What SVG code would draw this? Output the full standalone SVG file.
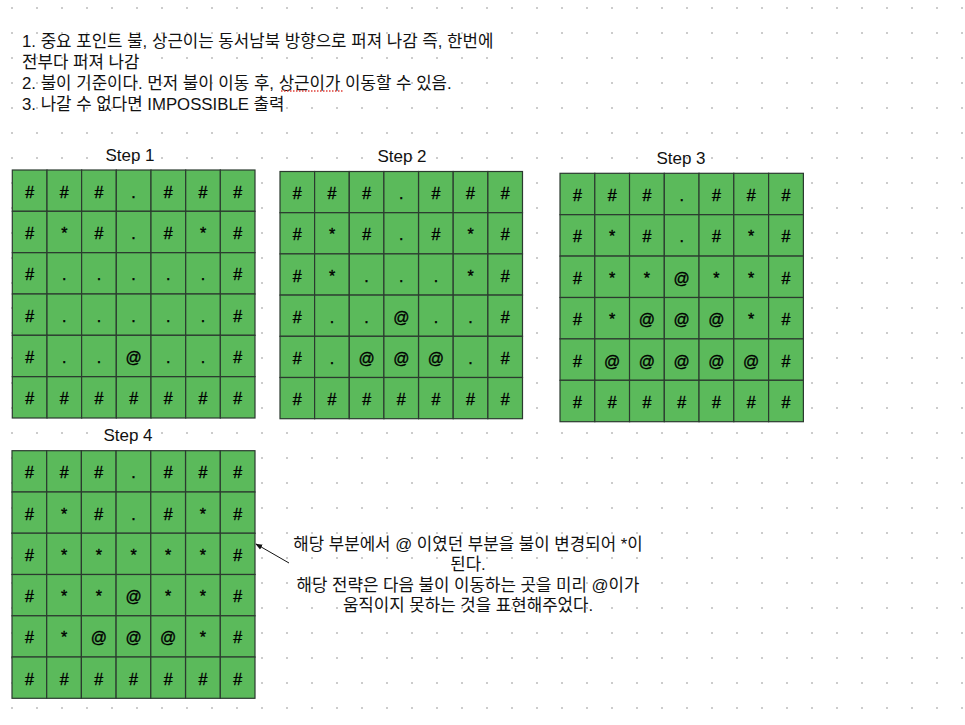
<svg xmlns="http://www.w3.org/2000/svg" width="965" height="725" viewBox="0 0 965 725">
<defs>
<pattern id="dots" x="0" y="0" width="25" height="25" patternUnits="userSpaceOnUse">
<rect x="11" y="7" width="2" height="2" fill="#cccccc"/>
</pattern>
<marker id="arr" viewBox="0 0 10 10" refX="9" refY="5" markerWidth="7" markerHeight="7" orient="auto-start-reverse">
<path d="M0,1 L10,5 L0,9 z" fill="#111"/>
</marker>
<style>
.t{font-family:"Liberation Sans","Noto Sans CJK KR",sans-serif;font-size:16.8px;fill:#111}
.c text.lbl{font-family:"Liberation Sans","Noto Sans CJK KR",sans-serif;font-size:17px;fill:#111;text-anchor:middle;stroke:none}
.c rect{fill:#5bba5b;stroke:#2b3a2f;stroke-width:1.2}
.c text{font-family:"Liberation Sans",sans-serif;font-size:16px;fill:#000;stroke:#000;stroke-width:0.35;text-anchor:middle}
</style>
</defs>
<rect width="965" height="725" fill="#ffffff"/>
<rect width="965" height="725" fill="url(#dots)"/>

<g id="notes">
<text class="t" x="22" y="46.5">1. 중요 포인트 불, 상근이는 동서남북 방향으로 퍼져 나감 즉, 한번에</text>
<text class="t" x="22" y="67.5">전부다 퍼져 나감</text>
<text class="t" x="22" y="88.5">2. 불이 기준이다. 먼저 불이 이동 후, 상근이가 이동할 수 있음.</text>
<line x1="281" y1="91" x2="343" y2="91" stroke="#e0403a" stroke-width="1.3" stroke-dasharray="1.5 1.5"/>
<text class="t" x="22" y="109.5">3. 나갈 수 없다면 IMPOSSIBLE 출력</text>
</g>

<g id="step1" class="c">
<text class="lbl" x="130" y="161">Step 1</text>
<rect x="12.3" y="170" width="34.7" height="41.3"/><rect x="47" y="170" width="34.7" height="41.3"/><rect x="81.6" y="170" width="34.7" height="41.3"/><rect x="116.3" y="170" width="34.7" height="41.3"/><rect x="151" y="170" width="34.7" height="41.3"/><rect x="185.7" y="170" width="34.7" height="41.3"/><rect x="220.3" y="170" width="34.7" height="41.3"/>
<rect x="12.3" y="211.3" width="34.7" height="41.3"/><rect x="47" y="211.3" width="34.7" height="41.3"/><rect x="81.6" y="211.3" width="34.7" height="41.3"/><rect x="116.3" y="211.3" width="34.7" height="41.3"/><rect x="151" y="211.3" width="34.7" height="41.3"/><rect x="185.7" y="211.3" width="34.7" height="41.3"/><rect x="220.3" y="211.3" width="34.7" height="41.3"/>
<rect x="12.3" y="252.7" width="34.7" height="41.3"/><rect x="47" y="252.7" width="34.7" height="41.3"/><rect x="81.6" y="252.7" width="34.7" height="41.3"/><rect x="116.3" y="252.7" width="34.7" height="41.3"/><rect x="151" y="252.7" width="34.7" height="41.3"/><rect x="185.7" y="252.7" width="34.7" height="41.3"/><rect x="220.3" y="252.7" width="34.7" height="41.3"/>
<rect x="12.3" y="294" width="34.7" height="41.3"/><rect x="47" y="294" width="34.7" height="41.3"/><rect x="81.6" y="294" width="34.7" height="41.3"/><rect x="116.3" y="294" width="34.7" height="41.3"/><rect x="151" y="294" width="34.7" height="41.3"/><rect x="185.7" y="294" width="34.7" height="41.3"/><rect x="220.3" y="294" width="34.7" height="41.3"/>
<rect x="12.3" y="335.3" width="34.7" height="41.3"/><rect x="47" y="335.3" width="34.7" height="41.3"/><rect x="81.6" y="335.3" width="34.7" height="41.3"/><rect x="116.3" y="335.3" width="34.7" height="41.3"/><rect x="151" y="335.3" width="34.7" height="41.3"/><rect x="185.7" y="335.3" width="34.7" height="41.3"/><rect x="220.3" y="335.3" width="34.7" height="41.3"/>
<rect x="12.3" y="376.7" width="34.7" height="41.3"/><rect x="47" y="376.7" width="34.7" height="41.3"/><rect x="81.6" y="376.7" width="34.7" height="41.3"/><rect x="116.3" y="376.7" width="34.7" height="41.3"/><rect x="151" y="376.7" width="34.7" height="41.3"/><rect x="185.7" y="376.7" width="34.7" height="41.3"/><rect x="220.3" y="376.7" width="34.7" height="41.3"/>
<text x="29.6" y="197.7">#</text><text x="64.3" y="197.7">#</text><text x="99" y="197.7">#</text><text x="133.6" y="197.7">.</text><text x="168.3" y="197.7">#</text><text x="203" y="197.7">#</text><text x="237.7" y="197.7">#</text>
<text x="29.6" y="239">#</text><text x="64.3" y="239">*</text><text x="99" y="239">#</text><text x="133.6" y="239">.</text><text x="168.3" y="239">#</text><text x="203" y="239">*</text><text x="237.7" y="239">#</text>
<text x="29.6" y="280.3">#</text><text x="64.3" y="280.3">.</text><text x="99" y="280.3">.</text><text x="133.6" y="280.3">.</text><text x="168.3" y="280.3">.</text><text x="203" y="280.3">.</text><text x="237.7" y="280.3">#</text>
<text x="29.6" y="321.7">#</text><text x="64.3" y="321.7">.</text><text x="99" y="321.7">.</text><text x="133.6" y="321.7">.</text><text x="168.3" y="321.7">.</text><text x="203" y="321.7">.</text><text x="237.7" y="321.7">#</text>
<text x="29.6" y="363">#</text><text x="64.3" y="363">.</text><text x="99" y="363">.</text><text x="133.6" y="363">@</text><text x="168.3" y="363">.</text><text x="203" y="363">.</text><text x="237.7" y="363">#</text>
<text x="29.6" y="404.3">#</text><text x="64.3" y="404.3">#</text><text x="99" y="404.3">#</text><text x="133.6" y="404.3">#</text><text x="168.3" y="404.3">#</text><text x="203" y="404.3">#</text><text x="237.7" y="404.3">#</text>
</g>

<g id="step2" class="c">
<text class="lbl" x="402" y="162">Step 2</text>
<rect x="280" y="171.5" width="34.6" height="41.2"/><rect x="314.6" y="171.5" width="34.6" height="41.2"/><rect x="349.3" y="171.5" width="34.6" height="41.2"/><rect x="383.9" y="171.5" width="34.6" height="41.2"/><rect x="418.6" y="171.5" width="34.6" height="41.2"/><rect x="453.2" y="171.5" width="34.6" height="41.2"/><rect x="487.9" y="171.5" width="34.6" height="41.2"/>
<rect x="280" y="212.7" width="34.6" height="41.2"/><rect x="314.6" y="212.7" width="34.6" height="41.2"/><rect x="349.3" y="212.7" width="34.6" height="41.2"/><rect x="383.9" y="212.7" width="34.6" height="41.2"/><rect x="418.6" y="212.7" width="34.6" height="41.2"/><rect x="453.2" y="212.7" width="34.6" height="41.2"/><rect x="487.9" y="212.7" width="34.6" height="41.2"/>
<rect x="280" y="253.9" width="34.6" height="41.2"/><rect x="314.6" y="253.9" width="34.6" height="41.2"/><rect x="349.3" y="253.9" width="34.6" height="41.2"/><rect x="383.9" y="253.9" width="34.6" height="41.2"/><rect x="418.6" y="253.9" width="34.6" height="41.2"/><rect x="453.2" y="253.9" width="34.6" height="41.2"/><rect x="487.9" y="253.9" width="34.6" height="41.2"/>
<rect x="280" y="295.1" width="34.6" height="41.2"/><rect x="314.6" y="295.1" width="34.6" height="41.2"/><rect x="349.3" y="295.1" width="34.6" height="41.2"/><rect x="383.9" y="295.1" width="34.6" height="41.2"/><rect x="418.6" y="295.1" width="34.6" height="41.2"/><rect x="453.2" y="295.1" width="34.6" height="41.2"/><rect x="487.9" y="295.1" width="34.6" height="41.2"/>
<rect x="280" y="336.3" width="34.6" height="41.2"/><rect x="314.6" y="336.3" width="34.6" height="41.2"/><rect x="349.3" y="336.3" width="34.6" height="41.2"/><rect x="383.9" y="336.3" width="34.6" height="41.2"/><rect x="418.6" y="336.3" width="34.6" height="41.2"/><rect x="453.2" y="336.3" width="34.6" height="41.2"/><rect x="487.9" y="336.3" width="34.6" height="41.2"/>
<rect x="280" y="377.5" width="34.6" height="41.2"/><rect x="314.6" y="377.5" width="34.6" height="41.2"/><rect x="349.3" y="377.5" width="34.6" height="41.2"/><rect x="383.9" y="377.5" width="34.6" height="41.2"/><rect x="418.6" y="377.5" width="34.6" height="41.2"/><rect x="453.2" y="377.5" width="34.6" height="41.2"/><rect x="487.9" y="377.5" width="34.6" height="41.2"/>
<text x="297.3" y="199.1">#</text><text x="332" y="199.1">#</text><text x="366.6" y="199.1">#</text><text x="401.3" y="199.1">.</text><text x="435.9" y="199.1">#</text><text x="470.5" y="199.1">#</text><text x="505.2" y="199.1">#</text>
<text x="297.3" y="240.3">#</text><text x="332" y="240.3">*</text><text x="366.6" y="240.3">#</text><text x="401.3" y="240.3">.</text><text x="435.9" y="240.3">#</text><text x="470.5" y="240.3">*</text><text x="505.2" y="240.3">#</text>
<text x="297.3" y="281.5">#</text><text x="332" y="281.5">*</text><text x="366.6" y="281.5">.</text><text x="401.3" y="281.5">.</text><text x="435.9" y="281.5">.</text><text x="470.5" y="281.5">*</text><text x="505.2" y="281.5">#</text>
<text x="297.3" y="322.7">#</text><text x="332" y="322.7">.</text><text x="366.6" y="322.7">.</text><text x="401.3" y="322.7">@</text><text x="435.9" y="322.7">.</text><text x="470.5" y="322.7">.</text><text x="505.2" y="322.7">#</text>
<text x="297.3" y="363.9">#</text><text x="332" y="363.9">.</text><text x="366.6" y="363.9">@</text><text x="401.3" y="363.9">@</text><text x="435.9" y="363.9">@</text><text x="470.5" y="363.9">.</text><text x="505.2" y="363.9">#</text>
<text x="297.3" y="405.1">#</text><text x="332" y="405.1">#</text><text x="366.6" y="405.1">#</text><text x="401.3" y="405.1">#</text><text x="435.9" y="405.1">#</text><text x="470.5" y="405.1">#</text><text x="505.2" y="405.1">#</text>
</g>

<g id="step3" class="c">
<text class="lbl" x="681" y="164">Step 3</text>
<rect x="560" y="173.3" width="34.8" height="41.4"/><rect x="594.8" y="173.3" width="34.8" height="41.4"/><rect x="629.5" y="173.3" width="34.8" height="41.4"/><rect x="664.3" y="173.3" width="34.8" height="41.4"/><rect x="699" y="173.3" width="34.8" height="41.4"/><rect x="733.8" y="173.3" width="34.8" height="41.4"/><rect x="768.6" y="173.3" width="34.8" height="41.4"/>
<rect x="560" y="214.7" width="34.8" height="41.4"/><rect x="594.8" y="214.7" width="34.8" height="41.4"/><rect x="629.5" y="214.7" width="34.8" height="41.4"/><rect x="664.3" y="214.7" width="34.8" height="41.4"/><rect x="699" y="214.7" width="34.8" height="41.4"/><rect x="733.8" y="214.7" width="34.8" height="41.4"/><rect x="768.6" y="214.7" width="34.8" height="41.4"/>
<rect x="560" y="256.1" width="34.8" height="41.4"/><rect x="594.8" y="256.1" width="34.8" height="41.4"/><rect x="629.5" y="256.1" width="34.8" height="41.4"/><rect x="664.3" y="256.1" width="34.8" height="41.4"/><rect x="699" y="256.1" width="34.8" height="41.4"/><rect x="733.8" y="256.1" width="34.8" height="41.4"/><rect x="768.6" y="256.1" width="34.8" height="41.4"/>
<rect x="560" y="297.5" width="34.8" height="41.4"/><rect x="594.8" y="297.5" width="34.8" height="41.4"/><rect x="629.5" y="297.5" width="34.8" height="41.4"/><rect x="664.3" y="297.5" width="34.8" height="41.4"/><rect x="699" y="297.5" width="34.8" height="41.4"/><rect x="733.8" y="297.5" width="34.8" height="41.4"/><rect x="768.6" y="297.5" width="34.8" height="41.4"/>
<rect x="560" y="338.9" width="34.8" height="41.4"/><rect x="594.8" y="338.9" width="34.8" height="41.4"/><rect x="629.5" y="338.9" width="34.8" height="41.4"/><rect x="664.3" y="338.9" width="34.8" height="41.4"/><rect x="699" y="338.9" width="34.8" height="41.4"/><rect x="733.8" y="338.9" width="34.8" height="41.4"/><rect x="768.6" y="338.9" width="34.8" height="41.4"/>
<rect x="560" y="380.3" width="34.8" height="41.4"/><rect x="594.8" y="380.3" width="34.8" height="41.4"/><rect x="629.5" y="380.3" width="34.8" height="41.4"/><rect x="664.3" y="380.3" width="34.8" height="41.4"/><rect x="699" y="380.3" width="34.8" height="41.4"/><rect x="733.8" y="380.3" width="34.8" height="41.4"/><rect x="768.6" y="380.3" width="34.8" height="41.4"/>
<text x="577.4" y="201">#</text><text x="612.1" y="201">#</text><text x="646.9" y="201">#</text><text x="681.7" y="201">.</text><text x="716.4" y="201">#</text><text x="751.2" y="201">#</text><text x="785.9" y="201">#</text>
<text x="577.4" y="242.4">#</text><text x="612.1" y="242.4">*</text><text x="646.9" y="242.4">#</text><text x="681.7" y="242.4">.</text><text x="716.4" y="242.4">#</text><text x="751.2" y="242.4">*</text><text x="785.9" y="242.4">#</text>
<text x="577.4" y="283.8">#</text><text x="612.1" y="283.8">*</text><text x="646.9" y="283.8">*</text><text x="681.7" y="283.8">@</text><text x="716.4" y="283.8">*</text><text x="751.2" y="283.8">*</text><text x="785.9" y="283.8">#</text>
<text x="577.4" y="325.2">#</text><text x="612.1" y="325.2">*</text><text x="646.9" y="325.2">@</text><text x="681.7" y="325.2">@</text><text x="716.4" y="325.2">@</text><text x="751.2" y="325.2">*</text><text x="785.9" y="325.2">#</text>
<text x="577.4" y="366.6">#</text><text x="612.1" y="366.6">@</text><text x="646.9" y="366.6">@</text><text x="681.7" y="366.6">@</text><text x="716.4" y="366.6">@</text><text x="751.2" y="366.6">@</text><text x="785.9" y="366.6">#</text>
<text x="577.4" y="408">#</text><text x="612.1" y="408">#</text><text x="646.9" y="408">#</text><text x="681.7" y="408">#</text><text x="716.4" y="408">#</text><text x="751.2" y="408">#</text><text x="785.9" y="408">#</text>
</g>

<g id="step4" class="c">
<text class="lbl" x="128" y="441">Step 4</text>
<rect x="12" y="450.7" width="34.7" height="41.3"/><rect x="46.7" y="450.7" width="34.7" height="41.3"/><rect x="81.4" y="450.7" width="34.7" height="41.3"/><rect x="116.1" y="450.7" width="34.7" height="41.3"/><rect x="150.8" y="450.7" width="34.7" height="41.3"/><rect x="185.6" y="450.7" width="34.7" height="41.3"/><rect x="220.3" y="450.7" width="34.7" height="41.3"/>
<rect x="12" y="492" width="34.7" height="41.3"/><rect x="46.7" y="492" width="34.7" height="41.3"/><rect x="81.4" y="492" width="34.7" height="41.3"/><rect x="116.1" y="492" width="34.7" height="41.3"/><rect x="150.8" y="492" width="34.7" height="41.3"/><rect x="185.6" y="492" width="34.7" height="41.3"/><rect x="220.3" y="492" width="34.7" height="41.3"/>
<rect x="12" y="533.2" width="34.7" height="41.3"/><rect x="46.7" y="533.2" width="34.7" height="41.3"/><rect x="81.4" y="533.2" width="34.7" height="41.3"/><rect x="116.1" y="533.2" width="34.7" height="41.3"/><rect x="150.8" y="533.2" width="34.7" height="41.3"/><rect x="185.6" y="533.2" width="34.7" height="41.3"/><rect x="220.3" y="533.2" width="34.7" height="41.3"/>
<rect x="12" y="574.5" width="34.7" height="41.3"/><rect x="46.7" y="574.5" width="34.7" height="41.3"/><rect x="81.4" y="574.5" width="34.7" height="41.3"/><rect x="116.1" y="574.5" width="34.7" height="41.3"/><rect x="150.8" y="574.5" width="34.7" height="41.3"/><rect x="185.6" y="574.5" width="34.7" height="41.3"/><rect x="220.3" y="574.5" width="34.7" height="41.3"/>
<rect x="12" y="615.8" width="34.7" height="41.3"/><rect x="46.7" y="615.8" width="34.7" height="41.3"/><rect x="81.4" y="615.8" width="34.7" height="41.3"/><rect x="116.1" y="615.8" width="34.7" height="41.3"/><rect x="150.8" y="615.8" width="34.7" height="41.3"/><rect x="185.6" y="615.8" width="34.7" height="41.3"/><rect x="220.3" y="615.8" width="34.7" height="41.3"/>
<rect x="12" y="657" width="34.7" height="41.3"/><rect x="46.7" y="657" width="34.7" height="41.3"/><rect x="81.4" y="657" width="34.7" height="41.3"/><rect x="116.1" y="657" width="34.7" height="41.3"/><rect x="150.8" y="657" width="34.7" height="41.3"/><rect x="185.6" y="657" width="34.7" height="41.3"/><rect x="220.3" y="657" width="34.7" height="41.3"/>
<text x="29.4" y="478.3">#</text><text x="64.1" y="478.3">#</text><text x="98.8" y="478.3">#</text><text x="133.5" y="478.3">.</text><text x="168.2" y="478.3">#</text><text x="202.9" y="478.3">#</text><text x="237.6" y="478.3">#</text>
<text x="29.4" y="519.6">#</text><text x="64.1" y="519.6">*</text><text x="98.8" y="519.6">#</text><text x="133.5" y="519.6">.</text><text x="168.2" y="519.6">#</text><text x="202.9" y="519.6">*</text><text x="237.6" y="519.6">#</text>
<text x="29.4" y="560.9">#</text><text x="64.1" y="560.9">*</text><text x="98.8" y="560.9">*</text><text x="133.5" y="560.9">*</text><text x="168.2" y="560.9">*</text><text x="202.9" y="560.9">*</text><text x="237.6" y="560.9">#</text>
<text x="29.4" y="602.2">#</text><text x="64.1" y="602.2">*</text><text x="98.8" y="602.2">*</text><text x="133.5" y="602.2">@</text><text x="168.2" y="602.2">*</text><text x="202.9" y="602.2">*</text><text x="237.6" y="602.2">#</text>
<text x="29.4" y="643.4">#</text><text x="64.1" y="643.4">*</text><text x="98.8" y="643.4">@</text><text x="133.5" y="643.4">@</text><text x="168.2" y="643.4">@</text><text x="202.9" y="643.4">*</text><text x="237.6" y="643.4">#</text>
<text x="29.4" y="684.7">#</text><text x="64.1" y="684.7">#</text><text x="98.8" y="684.7">#</text><text x="133.5" y="684.7">#</text><text x="168.2" y="684.7">#</text><text x="202.9" y="684.7">#</text><text x="237.6" y="684.7">#</text>
</g>

<g id="annotation">
<text class="t" text-anchor="middle" x="468" y="549.5">해당 부분에서 @ 이였던 부분을 불이 변경되어 *이</text>
<text class="t" text-anchor="middle" x="468" y="570">된다.</text>
<text class="t" text-anchor="middle" x="468" y="590.5">해당 전략은 다음 불이 이동하는 곳을 미리 @이가</text>
<text class="t" text-anchor="middle" x="468" y="611">움직이지 못하는 것을 표현해주었다.</text>
</g>

<g id="connectors">
<line x1="289" y1="563" x2="256" y2="544" stroke="#111" stroke-width="1" marker-end="url(#arr)"/>
</g>
</svg>
